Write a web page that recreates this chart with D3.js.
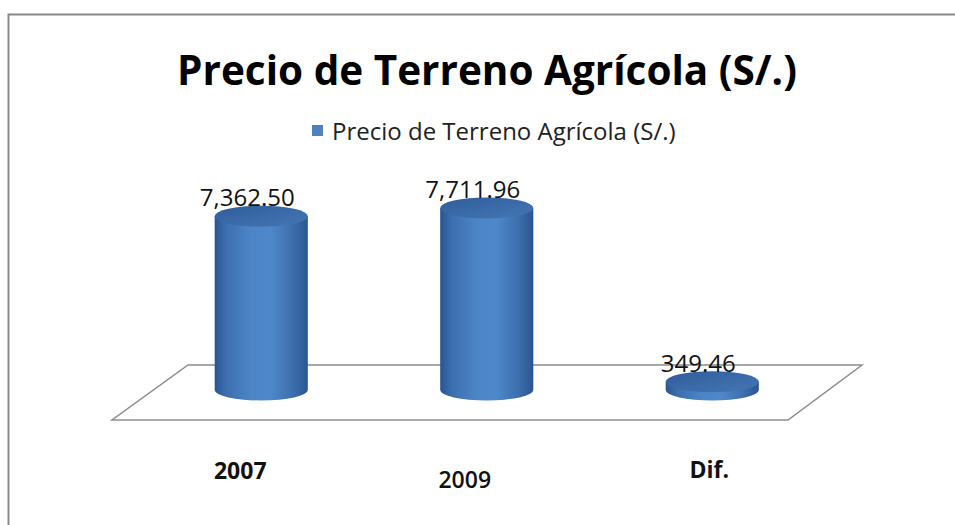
<!DOCTYPE html>
<html>
<head>
<meta charset="utf-8">
<script src="https://cdn.jsdelivr.net/npm/d3@7"></script>
<style>
  html, body { margin: 0; padding: 0; background: #fff; }
  svg { display: block; font-family: "Open Sans", "Noto Sans", sans-serif; }
</style>
</head>
<body>
<svg id="chart" width="955" height="525"></svg>
<script>
const chartTitle = "Precio de Terreno Agrícola (S/.)";
const seriesName = "Precio de Terreno Agrícola (S/.)";
const categories = ["2007", "2009", "Dif."];
const values = [7362.50, 7711.96, 349.46];
const valueLabels = ["7,362.50", "7,711.96", "349.46"];

const W = 955, H = 525;
const svg = d3.select("#chart");

// frame (only top & left visible in crop)
svg.append("path")
  .attr("d", `M8.5,${H} L8.5,14.5 L${W},14.5`)
  .attr("fill", "none").attr("stroke", "#8a8a8a").attr("stroke-width", 2);

// title
svg.append("text").attr("x", 487).attr("y", 85)
  .attr("text-anchor", "middle").attr("font-size", 40.5).attr("font-weight", 700)
  .attr("fill", "#000").text(chartTitle);

// legend
const legend = svg.append("g");
legend.append("rect").attr("x", 312).attr("y", 125).attr("width", 11).attr("height", 11).attr("fill", "#4f81bd");
legend.append("text").attr("x", 332).attr("y", 140).attr("font-size", 24).attr("fill", "#222").text(seriesName);

// scales
const x = d3.scaleBand().domain(categories).range([148.5, 825]).paddingInner(0.587).paddingOuter(0.2935);
const baseY = 390;
const y = d3.scaleLinear().domain([0, 8000]).range([baseY, baseY - 188.8]);

// floor
const floorBack = 365, floorFront = 420;
svg.append("path")
  .attr("d", `M188,${floorBack} L862,${floorBack} L788,${floorFront} L112,${floorFront} Z`)
  .attr("fill", "#fff").attr("stroke", "#8c8c8c").attr("stroke-width", 1.5);

// gradients
const defs = svg.append("defs");
const gBody = defs.append("linearGradient").attr("id", "body").attr("x1", "0").attr("x2", "1").attr("y1", "0").attr("y2", "0");
[[0, "#2a5490"], [0.12, "#3b6eae"], [0.4, "#4d86c8"], [0.6, "#4f88ca"], [0.85, "#3b6dab"], [1, "#2b5592"]]
  .forEach(([o, c]) => gBody.append("stop").attr("offset", o).attr("stop-color", c));
const gTop = defs.append("linearGradient").attr("id", "top").attr("x1", "0").attr("x2", "1").attr("y1", "0").attr("y2", "1");
[[0, "#2f5c98"], [0.5, "#3a6aa8"], [1, "#4576b4"]]
  .forEach(([o, c]) => gTop.append("stop").attr("offset", o).attr("stop-color", c));

const ry = 10.5;
const bars = svg.append("g").selectAll("g").data(categories.map((c, i) => ({c, v: values[i], lab: valueLabels[i]})))
  .join("g");

bars.append("path")
  .attr("d", d => {
    const rx = x.bandwidth() / 2, cx = x(d.c) + rx, t = y(d.v);
    return `M${cx - rx},${t} L${cx - rx},${baseY} A${rx},${ry} 0 0 0 ${cx + rx},${baseY} L${cx + rx},${t} Z`;
  })
  .attr("fill", "url(#body)");

bars.append("ellipse")
  .attr("cx", d => x(d.c) + x.bandwidth() / 2)
  .attr("cy", d => y(d.v))
  .attr("rx", x.bandwidth() / 2).attr("ry", ry)
  .attr("fill", "url(#top)");

bars.append("text")
  .attr("x", d => x(d.c) + x.bandwidth() / 2 - 14)
  .attr("y", d => y(d.v) - 10)
  .attr("text-anchor", "middle").attr("font-size", 24).attr("fill", "#111")
  .text(d => d.lab);

// category labels
const catDx = [-21, -22, -3];
const catDy = [479, 488, 478];
svg.append("g").selectAll("text").data(categories).join("text")
  .attr("x", (d, i) => x(d) + x.bandwidth() / 2 + catDx[i])
  .attr("y", (d, i) => catDy[i])
  .attr("text-anchor", "middle").attr("font-size", 23).attr("font-weight", (d, i) => i === 1 ? 600 : 700)
  .attr("fill", "#111").text(d => d);
</script>
</body>
</html>
